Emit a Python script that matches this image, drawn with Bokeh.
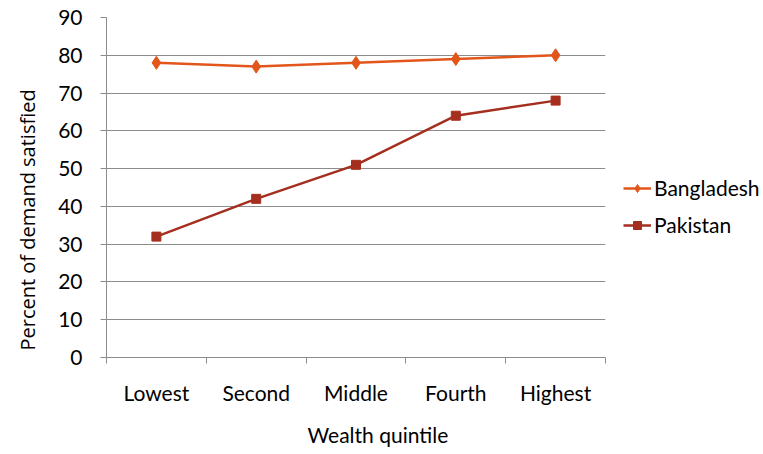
from bokeh.plotting import figure
from bokeh.models import (ColumnDataSource, FixedTicker, Range1d, Legend, LegendItem, Title)
from bokeh.embed import file_html
from bokeh.resources import INLINE

categories = ["Lowest", "Second", "Middle", "Fourth", "Highest"]
bangladesh = [78, 77, 78, 79, 80]
pakistan = [32, 42, 51, 64, 68]
y_ticks = [0, 10, 20, 30, 40, 50, 60, 70, 80, 90]

xs = list(range(1, len(categories) + 1))
src = ColumnDataSource(dict(x=xs, bd=bangladesh, pk=pakistan))

FONT = "Lato"
C_BD = "#E2561B"
C_PK = "#A52F1E"
GRID = "#8C8C8C"

p = figure(frame_width=499, frame_height=340, output_backend="svg", toolbar_location=None,
           x_range=Range1d(0.5, len(categories) + 0.5), y_range=Range1d(0, 90),
           min_border_left=106, min_border_right=150, min_border_top=17, min_border_bottom=89)
p.outline_line_color = None
p.background_fill_color = "white"
p.border_fill_color = "white"

l1 = p.line("x", "bd", source=src, line_color=C_BD, line_width=2.5)
m1 = p.scatter("x", "bd", source=src, marker="diamond", size=13, fill_color=C_BD, line_color=C_BD)
l2 = p.line("x", "pk", source=src, line_color=C_PK, line_width=2.5)
m2 = p.scatter("x", "pk", source=src, marker="square", size=9, fill_color=C_PK, line_color=C_PK)

# x axis: labels at centers, tick marks at category boundaries
p.xaxis.ticker = FixedTicker(ticks=xs, minor_ticks=[i + 0.5 for i in range(0, len(categories) + 1)])
p.xaxis.major_label_overrides = {x: c for x, c in zip(xs, categories)}
p.xaxis.major_tick_line_color = None
p.xaxis.minor_tick_line_color = GRID
p.xaxis.minor_tick_out = 6
p.xaxis.minor_tick_in = 0
p.xaxis.axis_line_color = GRID
p.xaxis.major_label_standoff = 16
p.xaxis.major_label_text_font = FONT
p.xaxis.major_label_text_font_size = "21px"
p.xaxis.major_label_text_color = "black"
p.xgrid.grid_line_color = None

p.yaxis.ticker = FixedTicker(ticks=y_ticks)
p.yaxis.minor_tick_line_color = None
p.yaxis.major_tick_out = 6
p.yaxis.major_tick_in = 0
p.yaxis.major_tick_line_color = GRID
p.yaxis.axis_line_color = GRID
p.yaxis.major_label_standoff = 18
p.yaxis.major_label_text_font = FONT
p.yaxis.major_label_text_font_size = "21px"
p.yaxis.major_label_text_color = "black"
p.ygrid.grid_line_color = GRID
p.ygrid.grid_line_width = 1

yt = Title(text="Percent of demand satisfied", align="left", vertical_align="top",
           text_font="Open Sans", text_font_size="20px", text_font_style="normal",
           text_color="black", offset=7, standoff=26)
p.add_layout(yt, "left")
xt = Title(text="Wealth quintile", align="left", text_font=FONT,
           text_font_size="21px", text_font_style="normal", text_color="black", offset=201, standoff=24)
p.add_layout(xt, "below")

legend = Legend(items=[LegendItem(label="Bangladesh", renderers=[l1, m1]),
                       LegendItem(label="Pakistan", renderers=[l2, m2])],
                location=(18, 120), orientation="vertical",
                padding=0, margin=0, spacing=12, glyph_width=28, glyph_height=20,
                label_standoff=3, label_text_font=FONT, label_text_font_size="21px",
                label_text_color="black", border_line_color=None, background_fill_alpha=0)
p.add_layout(legend, "right")

open("out.html", "w").write(file_html(p, INLINE))
